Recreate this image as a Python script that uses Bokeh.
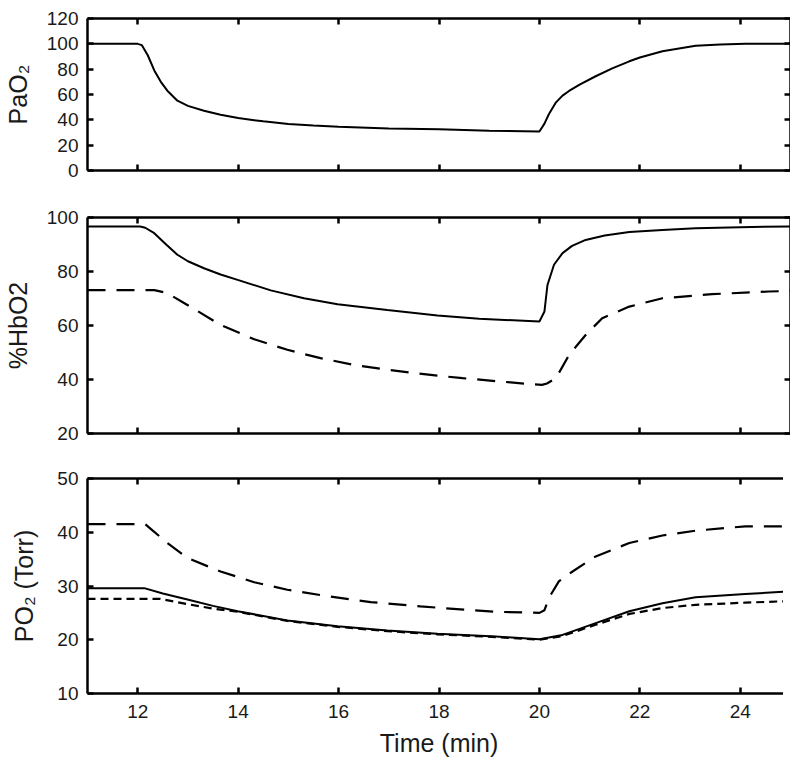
from bokeh.plotting import figure
from bokeh.layouts import column
from bokeh.models import Range1d, LinearAxis, FixedTicker
from bokeh.embed import file_html
from bokeh.resources import INLINE

FONT = "Liberation Sans"
TXT = "#1a1a1a"

# ---- data ----
x_ticks = [12, 14, 16, 18, 20, 22, 24]

# Panel 1: PaO2
t_pa = [11.0, 12.0, 12.08, 12.2, 12.33, 12.46, 12.59, 12.79, 13.0, 13.32, 13.65, 14.0,
        14.5, 15.0, 15.5, 16.0, 17.0, 18.0, 19.0, 20.0, 20.1, 20.19, 20.33, 20.46,
        20.59, 20.8, 21.12, 21.45, 21.79, 22.0, 22.45, 23.11, 23.6, 24.1, 25.0]
pao2 = [100, 100, 99, 91, 79, 70, 63, 55.1, 51, 47.2, 44, 41.4,
        38.8, 36.7, 35.5, 34.5, 33.2, 32.6, 31.3, 30.8, 37, 44.6, 53.8, 59.1,
        62.8, 67.8, 74.4, 80.6, 86.2, 89.2, 94.2, 98.4, 99.5, 100, 100]
pa_ticks = [0, 20, 40, 60, 80, 100, 120]

# Panel 2: %HbO2 (solid and dashed)
t_hb1 = [11, 12.05, 12.15, 12.33, 12.55, 12.79, 13.0, 13.32, 13.65, 13.99, 14.65, 15.31,
         15.98, 16.97, 17.97, 18.8, 20.0, 20.1, 20.16, 20.29, 20.46, 20.65, 20.92, 21.3,
         21.79, 22.45, 23.11, 24.0, 25.0]
hb1 = [96.7, 96.7, 96.2, 94.2, 90.3, 86.2, 83.8, 81.2, 78.9, 76.9, 73, 70.1,
       67.9, 65.7, 63.7, 62.5, 61.5, 65.2, 75, 82.5, 86.8, 89.5, 91.7, 93.3,
       94.6, 95.4, 96, 96.4, 96.7]
t_hb2 = [11, 12.33, 12.59, 12.99, 13.65, 14.32, 14.98, 15.64, 16.31, 16.97, 17.97, 18.47,
         19.8, 20.05, 20.15, 20.33, 20.59, 20.92, 21.25, 21.79, 22.45, 23.44, 24.57, 25]
hb2 = [73.1, 73.1, 72, 67.6, 60.2, 54.9, 51, 47.9, 45.4, 43.6, 41.4, 40.5,
       38.3, 38, 38.5, 40.5, 49.1, 56.5, 62.7, 67, 70.1, 71.6, 72.6, 72.8]
hb_ticks = [20, 40, 60, 80, 100]

# Panel 3: PO2 (Torr) - long dashed, solid, short dashed
t_po_a = [11, 12.15, 12.3, 12.59, 12.99, 13.65, 14.32, 14.98, 15.78, 16.64, 17.63, 18.5,
          19.13, 20.0, 20.1, 20.19, 20.39, 20.66, 21.12, 21.79, 22.45, 23.11, 24.1, 25]
po_a = [41.5, 41.5, 40.3, 38, 35.2, 32.7, 30.7, 29.3, 28.1, 27, 26.2, 25.6,
        25.2, 25, 25.5, 27.8, 30.9, 32.7, 35.5, 38, 39.4, 40.3, 41.1, 41.1]
t_po_b = [11, 12.13, 12.5, 12.99, 13.5, 13.99, 14.98, 15.98, 16.97, 17.97, 19.13, 20.0,
          20.46, 21.12, 21.79, 22.45, 23.11, 24.1, 25]
po_b = [29.6, 29.6, 28.6, 27.5, 26.3, 25.3, 23.6, 22.5, 21.7, 21.1, 20.6, 20.1,
        20.9, 23.1, 25.3, 26.8, 27.9, 28.5, 29.0]
t_po_c = [11, 12.45, 13.0, 13.5, 13.99, 14.98, 15.98, 16.97, 17.97, 19.13, 20.0,
          20.46, 21.12, 21.79, 22.45, 23.11, 24.1, 25]
po_c = [27.6, 27.6, 26.6, 25.8, 25.2, 23.5, 22.4, 21.6, 21.0, 20.5, 20.0,
        20.7, 22.8, 24.8, 25.9, 26.5, 26.9, 27.2]
po_ticks = [10, 20, 30, 40, 50]


def style_axis(ax, ticks, show_labels):
    ax.ticker = FixedTicker(ticks=ticks)
    ax.axis_line_width = 2.5
    ax.axis_line_color = "black"
    ax.major_tick_line_width = 2.5
    ax.major_tick_line_color = "black"
    ax.major_tick_in = 6
    ax.major_tick_out = 0
    ax.minor_tick_line_color = None
    ax.major_label_text_font = FONT
    ax.major_label_text_color = TXT
    if show_labels:
        ax.major_label_text_font_size = "19px"
        ax.major_label_standoff = 9
    else:
        ax.major_label_overrides = {t: "" for t in ticks}
        ax.major_label_text_font_size = "1px"
        ax.major_label_standoff = 0


def set_label(ax, text, standoff):
    ax.axis_label = text
    ax.axis_label_text_font = FONT
    ax.axis_label_text_font_size = "25px"
    ax.axis_label_text_font_style = "normal"
    ax.axis_label_text_color = TXT
    ax.axis_label_standoff = standoff


def make_panel(yr, yticks, ylabel, label_standoff, frame_h, top_b, bottom_b, show_x):
    p = figure(x_range=Range1d(11, 25), y_range=Range1d(*yr),
               frame_width=703, frame_height=frame_h,
               min_border_left=80, min_border_right=0,
               min_border_top=top_b, min_border_bottom=bottom_b,
               output_backend="svg", toolbar_location=None)
    p.grid.visible = False
    p.outline_line_color = None
    p.background_fill_color = "white"
    p.border_fill_color = "white"
    bottom_ax = p.below[0]
    left_ax = p.left[0]
    style_axis(bottom_ax, x_ticks, show_x)
    style_axis(left_ax, yticks, True)
    top = LinearAxis()
    style_axis(top, x_ticks, False)
    p.add_layout(top, "above")
    right = LinearAxis()
    style_axis(right, yticks, False)
    p.add_layout(right, "right")
    set_label(left_ax, ylabel, label_standoff)
    return p, bottom_ax


p1, _ = make_panel((0, 120), pa_ticks, "PaO\u2082", 12, 152, 18, 20, False)
p1.line(t_pa, pao2, line_color="black", line_width=2)

p2, _ = make_panel((20, 100), hb_ticks, "%HbO2", 12, 216, 27, 20, False)
p2.line(t_hb1, hb1, line_color="black", line_width=2)
p2.line(t_hb2, hb2, line_color="black", line_width=2.2, line_dash="18 11")

p3, p3_bottom = make_panel((10, 50), po_ticks, "PO\u2082 (Torr)", 16, 215, 25, 72, True)
p3.line(t_po_a, po_a, line_color="black", line_width=2.2, line_dash="18 11")
p3.line(t_po_b, po_b, line_color="black", line_width=2)
p3.line(t_po_c, po_c, line_color="black", line_width=2.2, line_dash="8 5")
p3_bottom.major_label_standoff = 11
set_label(p3_bottom, "Time (min)", 8)

layout = column(p1, p2, p3, spacing=0)

with open("out.html", "w") as f:
    f.write(file_html(layout, INLINE))
